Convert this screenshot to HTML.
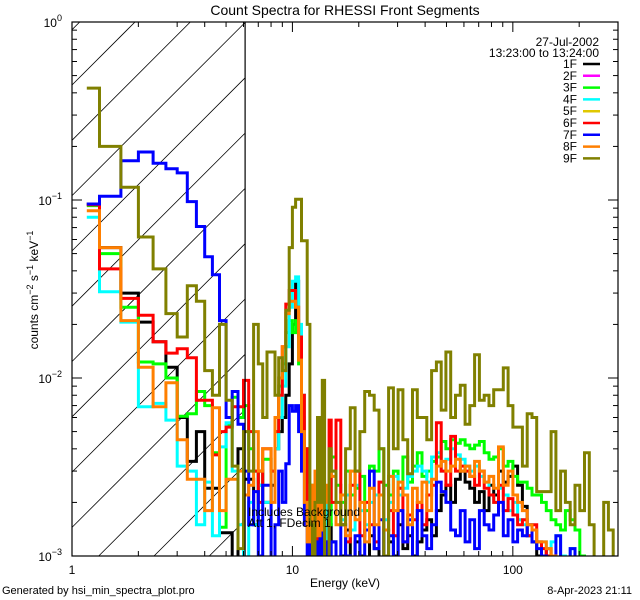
<!DOCTYPE html>
<html><head><meta charset="utf-8"><style>
html,body{margin:0;padding:0;background:#fff;width:640px;height:600px;overflow:hidden;}
svg{display:block;font-family:"Liberation Sans",sans-serif;}
</style></head><body>
<svg id="chart" width="640" height="600" viewBox="0 0 640 600" xmlns="http://www.w3.org/2000/svg">
<rect width="640" height="600" fill="#fff"/>
<text x="345" y="15" font-size="14" text-anchor="middle">Count Spectra for RHESSI Front Segments</text>
<defs><clipPath id="pc"><rect x="72" y="22" width="546" height="534"/></clipPath></defs>
<g id="hatch"></g>
<g id="series" clip-path="url(#pc)"></g>
<g id="axes"></g>
<text x="248" y="516" font-size="12">Includes Background</text>
<text x="248" y="527" font-size="12">Att 1, FDecim 1</text>
<text x="345" y="587" font-size="12" text-anchor="middle">Energy (keV)</text>
<text transform="translate(38,290) rotate(-90)" font-size="12" text-anchor="middle">counts cm<tspan dy="-5" font-size="9">−2</tspan><tspan dy="5"> s</tspan><tspan dy="-5" font-size="9">−1</tspan><tspan dy="5"> keV</tspan><tspan dy="-5" font-size="9">−1</tspan></text>
<text x="2" y="594" font-size="11">Generated by hsi_min_spectra_plot.pro</text>
<text x="632" y="594" font-size="11" text-anchor="end">8-Apr-2023 21:11</text>
<text x="599" y="46" font-size="12" text-anchor="end">27-Jul-2002</text>
<text x="599" y="57" font-size="12" text-anchor="end">13:23:00 to 13:24:00</text>
<g id="legend"></g>
</svg>
<script>
// ---- data (counts in units of 1e-3 cm^-2 s^-1 keV^-1) ----
const unit = 1e-3;
const segments = ["1F","2F","3F","4F","5F","6F","7F","8F","9F"];
const colors = ["#000000","#ff00ff","#00ff00","#00ffff","#e0c800","#ff0000","#0000ff","#ff7f00","#808000"];
// low-energy bins: 1/3 keV bins (first drawn from 1.167 keV) up to 15 keV
const lowEdgeStart = 1.1667;
// high-energy bins: 60 log-spaced bins from 15 keV to 300 keV
const highBinCount = 60;
const low1F=[95,54,30,20.6,16,11.5,6,3.4,5,2.4,2.4,1.35,1.35,0.8,4,2.7,2.7,1.5,3,2,2,2.5,4,5,6,8,12,20,35,15,6,3,1.5,0.8,1.2,0.8,1.5,1.2,0.8,1,0.8,1.5];
const high1F=[1.2,0.8,1,1.4,0.9,1.2,1,0.8,1.3,1.1,0.9,1.4,1.2,1,1.5,1.1,1.3,1,1.2,1.4,1.6,1.3,1.8,2.2,2.5,2,2.7,3,2.6,2.4,2,2.3,1.8,2.5,2.2,3,2.6,2.8,3.2,2.5,1.9,1.3,1.2,1,0.9,1.1,0.9,0.8];
const low2F=[];
const high2F=[];
const low3F=[93,50,25,12.3,12,10,6.1,6.3,8.4,7,3.8,1.45,5.4,7.8,6,7,4,3,2.5,3.5,3.5,3,5,9,12,18,21,18,21,12,6,4,2,1.5,2.5,1.2,2,1.5,2,1.5,2,1.5];
const high3F=[3.6,2.5,2,3,2.2,2.4,2.8,1.8,3.2,3,4,2.5,2.2,3,2.4,3.6,2.6,3.2,3.8,2.8,3,3.4,3.6,4.4,4,4.5,4.3,4.5,4.2,4,4.2,4.4,3.8,3.5,3.6,4,3.2,3.4,2.8,2.6,2.6,2.4,2.2,2.2,2,1.8,1.6,1.5,1.4,1.8,1.6,1.4,1,0.8];
const low4F=[80,30.5,20.6,6.9,7.2,5.8,3.2,3,1.5,2.6,1.3,4.1,5.6,3,1.5,0.8,2,1.5,2.5,2,2,3,4,6,9,15,25,35,37,20,8,3,1.5,0.8,2,1.5,0.8,3,1.5,2,1.2,2.5];
const high4F=[3,2,1.6,2.2,1.4,2.5,1.8,1.5,2,2.2,2.6,1.6,2,2.8,2.2,2.4,2.8,3,3.2,3,2.6,3.6,3.8,3,3.5,4,3.7,3.5,3.2,3,3.2,2.8,2.6,2.2,2,2.4,2.2,1.8,2,1.6,1.5,1.3,1.4,1.2,1.2,1.1,1.2,1.3,1,0.9,1.1,0.8];
const low5F=[];
const high5F=[];
const low6F=[94,41,28,22.5,16,13.8,14.6,13,7.5,7.5,3.7,5,5.3,6.9,6.9,9.7,5,3,2,4,4,3,5,8,15,26,31,31,25,17,8,4,2,1.5,0.8,2.5,1.2,0.9,1.5,0.8,1.2,5.8];
const high6F=[2,5.8,1.5,1.2,2.5,3,1.3,2,1.5,1.2,2.6,1.4,1.8,1.3,2.4,1.2,1.7,1.6,2,1.5,2.2,2.5,5.6,3,2.5,4.7,3,3.2,3,2.8,2.5,3,2.4,2.2,2,2.5,1.8,2.1,1.7,1.5,1.6,1.3,1.5,1.2,1.1,1,0.9,0.8];
const low7F=[95,105,166,186,161,150,142,98,71,48,38,21,6,8.4,5.5,3,1.5,2.3,1,2.5,2.5,0.8,1.5,3,2,3.3,7,6.5,7,5,3,1.5,0.8,2,0.8,1.2,0.8,1.5,0.8,0.9,1.2,0.8];
const high7F=[1.2,0.8,1.5,1,0.8,1.3,0.9,1.4,3,1.1,1.6,1,1.3,0.9,1.8,1.2,1.6,0.9,1.8,1.3,1.1,1.5,2.6,2.3,2,1.4,1.3,1.8,1.2,1.6,1.1,1.8,1.5,1.4,1.7,2,1.3,1.6,1.2,1.4,1.3,1.5,1.2,1.1,1,0.9,0.9,1.3,0.9,0.9,1.1,0.9];
const low8F=[87,54,21,11.5,6.9,9.4,4.5,2.7,2.7,1.8,6.8,1.8,2.7,2.7,3,2.2,2.5,5,3,4,4,2,6,10,15,23,27,27,25,12.6,5,2,1.2,2.5,1.5,3,1.3,2,1.4,2.5,2,3];
const high8F=[2.8,1.5,2.2,1.3,3,1.6,2,1.2,2.4,1.5,2.2,1.4,2.8,1.8,2.6,2.2,1.5,2.4,2,2.6,1.8,2.7,3.2,3.4,3,3.2,3.5,3,3.2,2.8,3.4,3,2.6,2.8,2.4,4.1,2.5,3,2.2,2,1.8,1.5,1.4,1.2,1.2,1.1,1,0.9,0.8];
const low9F=[425,200,118,62,41,23,17,33,27,11,8,20,7.5,3.2,1.1,5,3,20,12,6,14,14,8,13,11,24,54,91,101,101,59,59,20,1.5,0.5,2,6,2,9.7,0.5,0.5,4];
const high9F=[3,2,1.5,4,6.8,3,5,8.4,8,6.6,4,1,8.8,4,8.6,4.5,2.9,8.6,6,6,4.5,11,12.3,6.6,14,6,8,9.1,5.5,7,13.5,7.5,8,7,8.6,8.6,11.4,7,5.3,5.3,3.2,6.3,6,2.3,2.3,2.3,5,1.8,3,2,1.5,2.5,1.8,3.8,1.5,0.9,0.9,2,1.4,0.9];
const lowSeries=[low1F,low2F,low3F,low4F,low5F,low6F,low7F,low8F,low9F];
const highSeries=[high1F,high2F,high3F,high4F,high5F,high6F,high7F,high8F,high9F];
const xTickLabels=["1","10","100"];
const yTickLabels=["0","−1","−2","−3"];

// ---- scales ----
const X0=72,X1=618,Y0=22,Y1=556;
const xMinLog=0, xMaxLog=Math.log10(300);
const yMinLog=-3, yMaxLog=0;
function xs(E){return X0+(Math.log10(E)-xMinLog)/(xMaxLog-xMinLog)*(X1-X0);}
function ys(v){if(!(v>0))return Y1+5;const l=Math.log10(v);return Y1-(l-yMinLog)/(yMaxLog-yMinLog)*(Y1-Y0);}
const NS="http://www.w3.org/2000/svg";
function mk(tag,attrs,parent){const e=document.createElementNS(NS,tag);for(const k in attrs)e.setAttribute(k,attrs[k]);parent.appendChild(e);return e;}

const edges=[lowEdgeStart];
for(let k=1;k<=42;k++)edges.push(1+k/3);
for(let j=1;j<=highBinCount;j++)edges.push(15*Math.pow(20,j/highBinCount));

// hatch (lines pre-clipped to the region)
const hatch=document.getElementById('hatch');
const xb=xs(6.1);
for(let c=85-55.3*8;c<Y1+(xb-X0)+60;c+=55.3){
  const xa=Math.max(X0,X0+c-Y1), xe=Math.min(xb,X0+c-Y0);
  if(xe<=xa)continue;
  const l=mk('line',{x1:xa,y1:c-(xa-X0),x2:xe,y2:c-(xe-X0),stroke:'#000','stroke-width':0.8},hatch);
  
  
}
const vl=mk('line',{x1:xb,y1:Y0,x2:xb,y2:Y1,stroke:'#000','stroke-width':1.2},document.getElementById('axes'));



const sg=document.getElementById('series');
segments.forEach((name,si)=>{
  if(!lowSeries[si].length)return;
  const full=[];
  for(let i=0;i<edges.length-1;i++){full.push(i<lowSeries[si].length?lowSeries[si][i]:(i-42<highSeries[si].length?highSeries[si][i-42]:0.5));}
  let d='';
  full.forEach((v,i)=>{
    const y=Math.min(Y1+2,ys(v*unit));
    const xa=xs(edges[i]),xb2=Math.min(X1,xs(edges[i+1]));
    d+=(i===0?'M':'L')+xa.toFixed(1)+','+y.toFixed(1)+'L'+xb2.toFixed(1)+','+y.toFixed(1);
  });
  const p=mk('path',{d:d,fill:'none',stroke:colors[si],'stroke-width':3,'stroke-linejoin':'miter'},sg);
  
  
});

const ax=document.getElementById('axes');
const fr=mk('rect',{x:X0,y:Y0,width:X1-X0,height:Y1-Y0,fill:'none',stroke:'#000','stroke-width':1.2},ax);


for(let dec=0;dec<=2;dec++){
  for(let m=1;m<=9;m++){
    const E=m*Math.pow(10,dec);
    if(E>300)break;
    const x=xs(E),len=m===1?10:5;
    const t1=mk('line',{x1:x,y1:Y1,x2:x,y2:Y1-len,stroke:'#000','stroke-width':1},ax);
    
    
    const t2=mk('line',{x1:x,y1:Y0,x2:x,y2:Y0+len,stroke:'#000','stroke-width':1},ax);
    
    
  }
  const lb=mk('text',{x:xs(Math.pow(10,dec)),y:574,'font-size':12,'text-anchor':'middle'},ax);
  lb.textContent=xTickLabels[dec];
  
  
}
for(let dec=-3;dec<=0;dec++){
  for(let m=1;m<=9;m++){
    const v=m*Math.pow(10,dec);
    if(v>1)break;
    const y=ys(v),len=m===1?10:5;
    const t1=mk('line',{x1:X0,y1:y,x2:X0+len,y2:y,stroke:'#000','stroke-width':1},ax);
    
    
    const t2=mk('line',{x1:X1,y1:y,x2:X1-len,y2:y,stroke:'#000','stroke-width':1},ax);
    
    
  }
  const lb=mk('text',{x:62,y:ys(Math.pow(10,dec))+5,'font-size':12,'text-anchor':'end'},ax);
  lb.textContent='10';
  const sp=mk('tspan',{dy:-6,'font-size':9},lb);
  sp.textContent=yTickLabels[-dec];
  
  
}
const lg=document.getElementById('legend');
segments.forEach((name,i)=>{
  const y=64+i*11.8;
  const t=mk('text',{x:577,y:y+4,'font-size':12,'text-anchor':'end'},lg);
  t.textContent=name;
  
  
  const l=mk('line',{x1:583,y1:y,x2:600,y2:y,stroke:colors[i],'stroke-width':2.5},lg);
  
  
});
</script>
</body></html>
